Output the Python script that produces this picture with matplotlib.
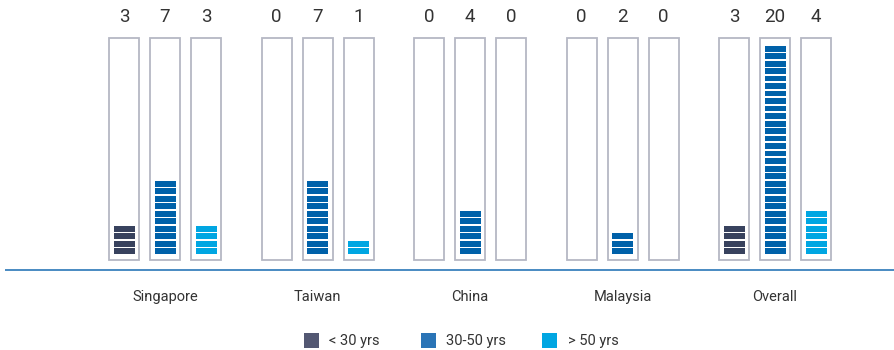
import matplotlib
matplotlib.use("Agg")
import matplotlib.pyplot as plt
from matplotlib.patches import Rectangle
from matplotlib import font_manager

# Data
regions = ["Singapore", "Taiwan", "China", "Malaysia", "Overall"]
age_groups = ["< 30 yrs", "30-50 yrs", "> 50 yrs"]
under_30 = [3, 0, 0, 0, 3]
from_30_to_50 = [7, 7, 4, 2, 20]
over_50 = [3, 1, 0, 0, 4]

series = [under_30, from_30_to_50, over_50]
bar_colors = ["#38425e", "#0061a9", "#00a6e2"]
legend_colors = ["#535873", "#2a74b6", "#00a6e2"]

available = {f.name for f in font_manager.fontManager.ttflist}
family = "Liberation Sans Narrow" if "Liberation Sans Narrow" in available else "Roboto"
plt.rcParams["font.family"] = [family, "DejaVu Sans"]

W, H = 894, 350
fig = plt.figure(figsize=(W / 100, H / 100), dpi=100)
ax = fig.add_axes([0, 0, 1, 1])
ax.set_axis_off()

# layout in pixels -> data mapping
group_px = 152.5          # px between group centres
first_px = 165.0          # centre of first group
unit_px = 10.5            # px per value unit
base_px = 254.0           # pixel row of value 0
ax.set_xlim(-first_px / group_px, (W - first_px) / group_px)
ax.set_ylim(-(H - base_px) / unit_px, base_px / unit_px)

offset = 41 / group_px
box_w = 30 / group_px
inner_w = 21 / group_px
box_bottom = -6 / unit_px
box_top = 216 / unit_px
pitch = 7.5 / unit_px
seg_h = 5.6 / unit_px
min_rest = 2.5 / unit_px  # a started segment is drawn whole once this much height is left

for gi, region in enumerate(regions):
    for si, vals in enumerate(series):
        x = gi + (si - 1) * offset
        v = vals[gi]
        # outline box
        ax.add_patch(Rectangle((x - box_w / 2, box_bottom), box_w, box_top - box_bottom,
                               facecolor="white", edgecolor="#b5b8c4", linewidth=1.3, zorder=1))
        # striped bar of height v, built from whole segments
        k = 0
        while v - k * pitch >= min_rest:
            ax.add_patch(Rectangle((x - inner_w / 2, k * pitch), inner_w, seg_h,
                                   facecolor=bar_colors[si], edgecolor="none", zorder=2))
            k += 1
        ax.text(x, (base_px - 17) / unit_px, str(v), ha="center", va="center",
                fontsize=13.5, color="#333333")
    ax.text(gi, -(297 - base_px) / unit_px, region, ha="center", va="center",
            fontsize=10.5, color="#333333")

# baseline
ax.plot([-(first_px - 5) / group_px, (W - first_px) / group_px], [-(270 - base_px) / unit_px] * 2,
        color="#2a77b8", linewidth=1.2, solid_capstyle="butt")

# legend
leg_sq = [304, 421, 542]
leg_tx = [329, 446, 568]
leg_y = 340.5
for sq, tx, lab, col in zip(leg_sq, leg_tx, age_groups, legend_colors):
    ax.add_patch(Rectangle(((sq - first_px) / group_px, -(leg_y + 7.5 - base_px) / unit_px),
                           15 / group_px, 15 / unit_px, facecolor=col, edgecolor="none"))
    ax.text((tx - first_px) / group_px, -(leg_y - base_px) / unit_px, lab,
            ha="left", va="center", fontsize=10.5, color="#333333")

fig.savefig("out.png", dpi=100)
